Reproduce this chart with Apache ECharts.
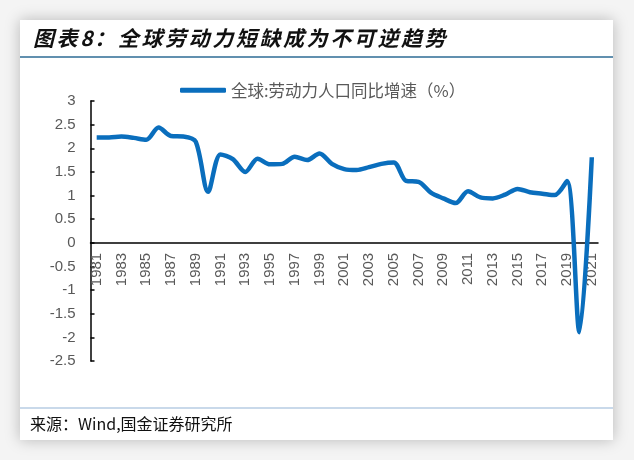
<!DOCTYPE html>
<html>
<head>
<meta charset="utf-8">
<script src="https://cdn.jsdelivr.net/npm/echarts@6/dist/echarts.min.js"></script>
<style>
  html, body { margin: 0; padding: 0; background: #f4f4f4; }
  #chart { width: 634px; height: 460px; }
</style>
</head>
<body>
<div id="chart"></div>
<script>
// years 1981-2021
var years = ['1981','1982','1983','1984','1985','1986','1987','1988','1989','1990',
  '1991','1992','1993','1994','1995','1996','1997','1998','1999','2000',
  '2001','2002','2003','2004','2005','2006','2007','2008','2009','2010',
  '2011','2012','2013','2014','2015','2016','2017','2018','2019','2020','2021'];

// 全球劳动力人口同比增速（%），
var laborGrowth = [2.23, 2.23, 2.25, 2.22, 2.18, 2.44, 2.26, 2.25, 2.14, 1.08,
  1.87, 1.77, 1.50, 1.78, 1.66, 1.67, 1.82, 1.75, 1.89, 1.67,
  1.56, 1.54, 1.60, 1.67, 1.70, 1.31, 1.29, 1.06, 0.94, 0.84,
  1.09, 0.96, 0.94, 1.02, 1.14, 1.07, 1.04, 1.01, 1.31, -1.89, 1.81];

var seriesName = '全球:劳动力人口同比增速（%）';
var titleText = '图表8：全球劳动力短缺成为不可逆趋势';
var sourceText = '来源：Wind,国金证券研究所';

var gray = '#595959';
var axisFont = 'Liberation Sans, Arial, sans-serif';

// title drawn char by char, the original has wide letter spacing
var titleChars = [];
var tx = 33;
for (var i = 0; i < titleText.length; i++) {
  var ch = titleText[i];
  titleChars.push({
    type: 'text',
    left: tx,
    top: 28,
    style: {
      text: ch,
      font: 'italic bold 21px "Noto Sans CJK SC"',
      fill: '#111'
    }
  });
  tx += (ch === '8') ? 14 : 23.6;
}

var chart = echarts.init(document.getElementById('chart'));
var option = {
  backgroundColor: '#f4f4f4',
  animation: false,
  graphic: [
    {
      type: 'rect',
      shape: { x: 20, y: 20, width: 593, height: 420 },
      style: { fill: '#fff', shadowBlur: 14, shadowColor: 'rgba(0,0,0,0.25)' },
      z: -10
    },
    {
      type: 'line',
      shape: { x1: 20, y1: 57, x2: 613, y2: 57 },
      style: { stroke: '#2d6b94', lineWidth: 1.5 }
    },
    {
      type: 'line',
      shape: { x1: 20, y1: 408, x2: 613, y2: 408 },
      style: { stroke: '#b7cde3', lineWidth: 1.5 }
    },
    {
      type: 'text',
      left: 30,
      top: 416,
      style: {
        text: sourceText,
        font: '16px "Noto Sans CJK SC"',
        fill: '#111'
      }
    }
  ].concat(titleChars),
  legend: {
    left: 175,
    top: 77,
    itemWidth: 46,
    itemHeight: 5,
    icon: 'roundRect',
    textStyle: { fontSize: 16.5, color: gray, fontFamily: 'Noto Sans CJK SC' },
    data: [seriesName]
  },
  grid: {
    left: 90.5,
    right: 36,
    top: 101,
    bottom: 99,
    containLabel: false
  },
  xAxis: {
    type: 'category',
    data: years,
    boundaryGap: true,
    // put the whole axis (line, ticks, labels) on the zero line
    offset: -118.2,
    axisLine: { onZero: false, lineStyle: { color: '#000', width: 1.5 } },
    axisTick: { inside: true, length: 6, interval: 1, lineStyle: { color: '#000', width: 1.5 } },
    axisLabel: {
      interval: 1,
      rotate: 90,
      margin: 10,
      fontSize: 15,
      color: gray,
      fontFamily: axisFont
    }
  },
  yAxis: {
    type: 'value',
    min: -2.5,
    max: 3,
    interval: 0.5,
    axisLine: { show: true, lineStyle: { color: '#000', width: 1.5 } },
    axisTick: { show: true, inside: true, length: 4, lineStyle: { color: '#000', width: 1.5 } },
    splitLine: { show: false },
    axisLabel: {
      margin: 15,
      fontSize: 15,
      color: gray,
      fontFamily: axisFont
    }
  },
  series: [
    {
      name: seriesName,
      type: 'line',
      data: laborGrowth,
      smooth: 0.3,
      symbol: 'none',
      color: '#0a6ebd',
      lineStyle: { width: 4.5, color: '#0a6ebd' }
    }
  ]
};
chart.setOption(option);
</script>
</body>
</html>
